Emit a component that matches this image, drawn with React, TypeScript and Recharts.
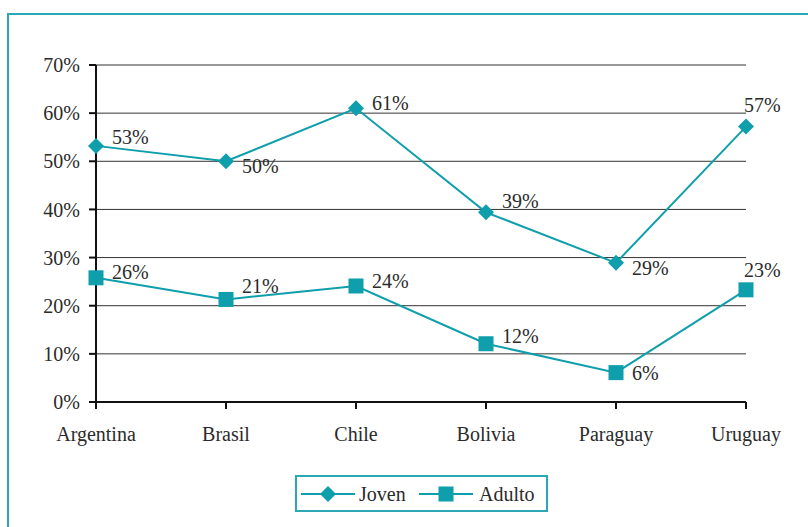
import * as React from "react";
import { LineChart, Line, XAxis, YAxis, CartesianGrid } from "recharts";

const countries = ["Argentina", "Brasil", "Chile", "Bolivia", "Paraguay", "Uruguay"];
const joven = [53.2, 50, 61, 39.4, 28.9, 57.2];
const adulto = [25.8, 21.3, 24.1, 12.1, 6.1, 23.3];
const yTicks = [0, 10, 20, 30, 40, 50, 60, 70];

const TEAL = "#0f9eab";
const FRAME = "#2aa9b4";
const TEXT = "#2b2b2b";
const FONT = "'Liberation Serif', 'Times New Roman', serif";

// label offsets from each point (dx, dy of the text's left/middle)
const jovenLabelPos = [[16, -9], [16, 5], [16, -5], [16, -11], [16, 5], [-2, -22]];
const adultoLabelPos = [[16, -6], [16, -13], [16, -5], [16, -8], [16, 0], [-2, -20]];

const data = countries.map((c, i) => ({ name: c, joven: joven[i], adulto: adulto[i] }));

function Diamond({ cx, cy }: any) {
  if (cx == null || cy == null) return null;
  const r = 8;
  return <polygon points={`${cx},${cy - r} ${cx + r},${cy} ${cx},${cy + r} ${cx - r},${cy}`} fill={TEAL} />;
}

function Square({ cx, cy }: any) {
  if (cx == null || cy == null) return null;
  const s = 15;
  return <rect x={cx - s / 2} y={cy - s / 2} width={s} height={s} fill={TEAL} />;
}

const makeLabel = (pos: number[][]) => (props: any) => {
  const { x, y, value, index } = props;
  const [dx, dy] = pos[index] || [16, 0];
  return (
    <text x={x + dx} y={y + dy} dominantBaseline="central" fill={TEXT} fontSize={20} fontFamily={FONT}>
      {Math.round(value)}%
    </text>
  );
};

function LegendBox() {
  return (
    <div
      style={{
        position: "absolute",
        left: 295,
        top: 475,
        width: 253,
        height: 37,
        boxSizing: "border-box",
        border: `2px solid ${FRAME}`,
        background: "#fff",
      }}
    >
      <svg width={249} height={33} style={{ display: "block" }}>
        <line x1={4} x2={58} y1={17} y2={17} stroke={TEAL} strokeWidth={2} />
        <Diamond cx={31} cy={17} />
        <text x={62} y={17} dominantBaseline="central" fontSize={20} fontFamily={FONT} fill={TEXT}>Joven</text>
        <line x1={122} x2={176} y1={17} y2={17} stroke={TEAL} strokeWidth={2} />
        <Square cx={149} cy={17} />
        <text x={182} y={17} dominantBaseline="central" fontSize={20} fontFamily={FONT} fill={TEXT}>Adulto</text>
      </svg>
    </div>
  );
}

export default function App() {
  return (
    <div style={{ position: "absolute", left: 0, top: 0, width: 808, height: 527, overflow: "hidden", background: "#fff" }}>
      <div
        style={{
          position: "absolute",
          left: 7,
          top: 13,
          width: 830,
          height: 560,
          border: `2px solid ${FRAME}`,
        }}
      />
      <LineChart
        width={808}
        height={527}
        data={data}
        margin={{ top: 65, right: 62, left: 36, bottom: 95 }}
        style={{ position: "absolute", left: 0, top: 0 }}
      >
        <CartesianGrid horizontal vertical={false} stroke="#333" strokeWidth={1} />
        <XAxis
          dataKey="name"
          height={30}
          axisLine={{ stroke: "#111", strokeWidth: 2 }}
          tickLine={{ stroke: "#111", strokeWidth: 2 }}
          tickSize={7}
          tickMargin={18}
          tick={{ fill: TEXT, fontSize: 20, fontFamily: FONT }}
          interval={0}
        />
        <YAxis
          width={60}
          domain={[0, 70]}
          ticks={yTicks}
          tickFormatter={(v) => `${v}%`}
          axisLine={{ stroke: "#111", strokeWidth: 2 }}
          tickLine={{ stroke: "#111", strokeWidth: 2 }}
          tickSize={7}
          tickMargin={9}
          tick={{ fill: TEXT, fontSize: 20, fontFamily: FONT }}
          interval={0}
        />
        <Line
          dataKey="joven"
          name="Joven"
          stroke={TEAL}
          strokeWidth={2}
          dot={<Diamond />}
          activeDot={false}
          label={makeLabel(jovenLabelPos)}
          isAnimationActive={false}
        />
        <Line
          dataKey="adulto"
          name="Adulto"
          stroke={TEAL}
          strokeWidth={2}
          dot={<Square />}
          activeDot={false}
          label={makeLabel(adultoLabelPos)}
          isAnimationActive={false}
        />
      </LineChart>
      <LegendBox />
    </div>
  );
}
